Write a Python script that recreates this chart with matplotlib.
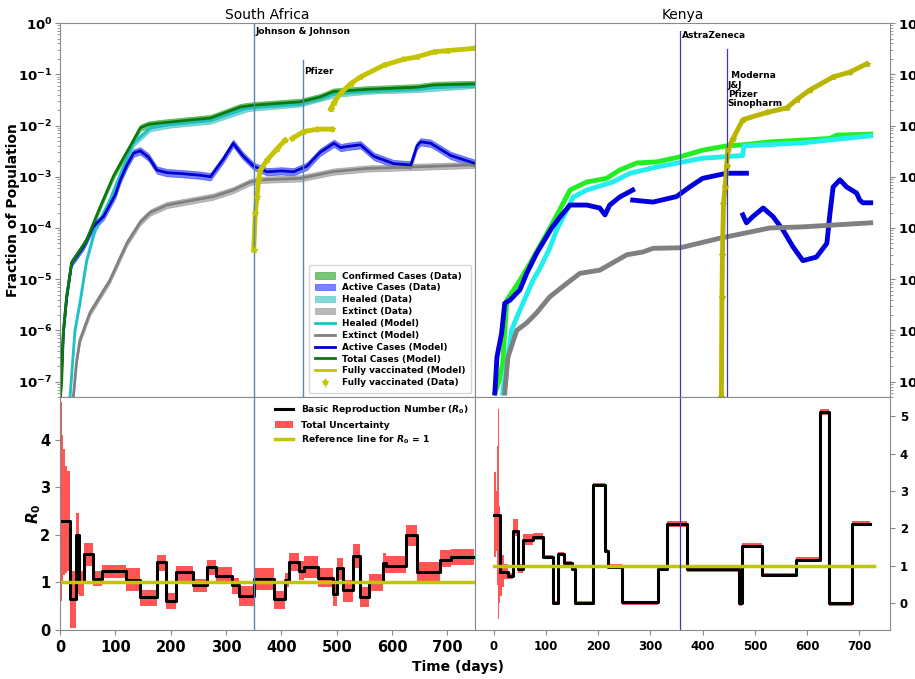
import numpy as np
import matplotlib.pyplot as plt

plt.rcParams['font.family'] = ['DejaVu Sans']
plt.rcParams['font.weight'] = 'bold'
plt.rcParams['axes.labelweight'] = 'bold'
plt.rcParams['axes.edgecolor'] = '#8a8a8a'
plt.rcParams['xtick.color'] = '#8a8a8a'
plt.rcParams['ytick.color'] = '#8a8a8a'
plt.rcParams['xtick.labelcolor'] = 'black'
plt.rcParams['ytick.labelcolor'] = 'black'

nan = np.nan

# ---------------- South Africa: fraction of population ----------------
sa_total_days = [0, 3, 6, 12, 21, 48, 72, 97, 109, 133, 145, 160, 181, 272, 326, 350, 434, 470, 494, 555, 646, 676, 748]
sa_total = [4e-8, 1e-7, 9e-7, 4.5e-6, 2.1e-5, 5.8e-5, 2.5e-4, 1.05e-3, 1.8e-3, 5.2e-3, 9.0e-3, 1.05e-2, 1.12e-2,
            1.4e-2, 2.3e-2, 2.5e-2, 2.9e-2, 3.6e-2, 4.6e-2, 5.1e-2, 5.6e-2, 6.2e-2, 6.5e-2]

sa_healed_days = [18, 27, 36, 48, 63, 90, 110, 133, 163, 200, 272, 340, 434, 500, 560, 650, 748]
sa_healed = [5e-8, 1e-6, 3.5e-6, 2.3e-5, 9e-5, 3.5e-4, 1.2e-3, 4.5e-3, 8.9e-3, 1.05e-2, 1.25e-2, 2.2e-2,
             2.7e-2, 4.2e-2, 4.8e-2, 5.2e-2, 6.2e-2]

sa_active_days = [0, 6, 12, 21, 42, 60, 79, 100, 109, 121, 133, 145, 160, 175, 193, 220, 253, 272, 295, 313,
                  330, 350, 374, 400, 422, 446, 470, 495, 507, 519, 543, 567, 603, 634, 645, 652, 670, 706, 748]
sa_active = [4e-8, 9e-7, 4.5e-6, 2.1e-5, 4.3e-5, 1.05e-4, 1.7e-4, 4.5e-4, 8.7e-4, 1.7e-3, 2.9e-3, 3.2e-3,
             2.4e-3, 1.35e-3, 1.2e-3, 1.15e-3, 1.07e-3, 1.0e-3, 2.2e-3, 4.5e-3, 2.6e-3, 1.6e-3, 1.25e-3,
             1.3e-3, 1.25e-3, 1.6e-3, 3.0e-3, 4.5e-3, 3.7e-3, 3.9e-3, 4.2e-3, 2.5e-3, 1.8e-3, 1.7e-3,
             4.0e-3, 4.8e-3, 4.5e-3, 2.6e-3, 1.85e-3]

sa_extinct_days = [24, 30, 36, 54, 90, 121, 145, 163, 193, 277, 313, 344, 362, 434, 494, 555, 748]
sa_extinct = [5e-8, 2.5e-7, 6.5e-7, 2.2e-6, 9.5e-6, 5.1e-5, 1.3e-4, 2.0e-4, 2.8e-4, 4.1e-4, 5.5e-4, 7.9e-4,
              8.7e-4, 9.3e-4, 1.26e-3, 1.45e-3, 1.7e-3]

sa_vacc_days = [350, 353, 356, 359, 362, 374, 392, 407, 413, 420, 440, 465, 492]
sa_vacc = [3.7e-5, 2e-4, 4e-4, 9e-4, 1.35e-3, 2.1e-3, 3.5e-3, 5.2e-3, nan, 5.6e-3, 7.6e-3, 8.5e-3, 8.5e-3]
sa_vacc2_days = [489, 495, 507, 525, 543, 585, 620, 646, 676, 700, 748]
sa_vacc2 = [2.1e-2, 2.8e-2, 4.3e-2, 6.5e-2, 8.9e-2, 0.15, 0.195, 0.22, 0.275, 0.29, 0.32]

# ---------------- Kenya: fraction of population ----------------
ke_total_days = [2, 10, 17, 25, 50, 69, 113, 146, 178, 216, 241, 274, 312, 357, 400, 446, 477, 529, 593, 644, 657, 722]
ke_total = [6e-8, 1e-7, 2.3e-7, 3.9e-6, 9.5e-6, 2.0e-5, 1.26e-4, 5.5e-4, 7.9e-4, 9.3e-4, 1.35e-3, 1.86e-3,
            1.95e-3, 2.45e-3, 3.3e-3, 4.0e-3, 4.2e-3, 4.8e-3, 5.2e-3, 5.6e-3, 6.5e-3, 6.8e-3]

ke_healed_days = [17, 27, 34, 44, 75, 88, 107, 120, 152, 178, 228, 261, 312, 400, 477, 479, 593, 657, 722]
ke_healed = [6e-8, 3e-7, 1e-6, 1.8e-6, 9.5e-6, 1.6e-5, 4.0e-5, 8.9e-5, 4.0e-4, 5.5e-4, 7.9e-4, 1.17e-3,
             1.55e-3, 2.3e-3, 2.6e-3, 4.0e-3, 4.6e-3, 5.4e-3, 6.3e-3]

ke_active_days = [2, 6, 15, 21, 31, 50, 63, 82, 111, 126, 146, 178, 203, 213, 222, 241, 266,
                  266, 266, 305, 350, 375, 400, 446, 484, 484,
                  477, 484, 496, 516, 535, 554, 573, 592, 618, 638, 644, 650, 663, 676, 695, 701, 707, 722]
ke_active = [6e-8, 3e-7, 8.9e-7, 3.4e-6, 3.9e-6, 6.2e-6, 1.3e-5, 3.2e-5, 1.0e-4, 1.6e-4, 2.8e-4, 2.8e-4,
             2.45e-4, 1.8e-4, 2.8e-4, 4.0e-4, 5.5e-4,
             nan, 3.5e-4, 3.2e-4, 4.1e-4, 6.3e-4, 9.3e-4, 1.17e-3, 1.17e-3, nan,
             1.8e-4, 1.26e-4, 1.66e-4, 2.45e-4, 1.66e-4, 9.1e-5, 4.3e-5, 2.3e-5, 2.7e-5, 5.0e-5, 1.95e-4,
             6.3e-4, 8.7e-4, 6.3e-4, 4.8e-4, 3.5e-4, 3.1e-4, 3.1e-4]

ke_extinct_days = [21, 27, 44, 63, 82, 107, 140, 165, 203, 255, 286, 305, 357, 433, 529, 592, 657, 722]
ke_extinct = [6e-8, 3e-7, 1e-6, 1.4e-6, 2.2e-6, 4.5e-6, 8.3e-6, 1.3e-5, 1.5e-5, 3.0e-5, 3.4e-5, 4.0e-5,
              4.1e-5, 6.3e-5, 1.0e-4, 1.05e-4, 1.15e-4, 1.26e-4]

ke_vacc_days = [436, 437, 438, 440, 443, 446, 448, 458, 477, 523, 561, 580, 605, 650, 682, 714]
ke_vacc = [5e-8, 4.5e-6, 3.0e-5, 3.0e-4, 6.3e-4, 1.6e-3, 3.3e-3, 5.5e-3, 1.3e-2, 1.8e-2, 2.2e-2, 3.2e-2,
           4.9e-2, 8.9e-2, 0.11, 0.16]

frac_ticks = [1e-7, 1e-6, 1e-5, 1e-4, 1e-3, 1e-2, 1e-1, 1e0]

# ---------------- R0 (step functions) ----------------
sa_r0_days = [0, 18, 29, 35, 44, 59, 76, 120, 145, 176, 191, 210, 241, 265, 282, 311, 323, 350, 386, 407, 413,
              431, 441, 467, 494, 500, 511, 530, 542, 558, 584, 590, 625, 646, 687, 706, 748]
sa_r0 = [2.29, 0.65, 2.0, 1.0, 1.6, 1.08, 1.23, 1.05, 0.69, 1.44, 0.6, 1.21, 0.94, 1.32, 1.14, 0.94, 0.72, 1.07,
         0.65, 1.05, 1.43, 1.25, 1.32, 1.09, 0.75, 1.3, 0.84, 1.56, 0.7, 1.0, 1.4, 1.35, 1.99, 1.21, 1.48, 1.53, 1.53]
sa_band_days = [0, 2, 4, 6, 9, 13] + sa_r0_days[1:]
sa_band_lo = [0.0, 0.6, 1.0, 1.15, 1.2, 1.25, 0.05, 0.75, 0.72, 1.35, 0.92, 1.1, 0.82, 0.5, 1.25, 0.45, 1.03,
              0.8, 1.16, 0.98, 0.75, 0.5, 0.85, 0.45, 0.9, 1.25, 1.05, 1.1, 0.9, 0.5, 1.05, 0.58, 1.3, 0.48,
              0.82, 1.2, 1.2, 1.77, 1.0, 1.32, 1.37, 1.37]
sa_band_hi = [4.8, 4.8, 4.1, 3.8, 3.45, 3.35, 1.25, 2.45, 1.25, 1.82, 1.25, 1.36, 1.3, 0.85, 1.57, 0.78, 1.35,
              1.08, 1.48, 1.33, 1.1, 0.92, 1.3, 0.82, 1.2, 1.62, 1.45, 1.55, 1.3, 1.05, 1.52, 1.05, 1.8, 0.9,
              1.18, 1.62, 1.55, 2.2, 1.42, 1.68, 1.7, 1.7]
sa_ref_days = [0, 750]
sa_ref = [1, 1]

ke_r0_days = [0, 11, 27, 37, 47, 55, 75, 94, 114, 123, 134, 149, 155, 190, 213, 219, 246, 315, 331, 370, 470,
              476, 514, 579, 625, 643, 686, 720]
ke_r0 = [2.37, 0.84, 0.73, 1.94, 0.93, 1.69, 1.78, 1.24, 0.02, 1.33, 1.07, 0.93, 0.02, 3.16, 1.4, 0.98, 0.03,
         0.93, 2.12, 0.91, 0.0, 1.54, 0.76, 1.17, 5.1, 0.0, 2.12, 2.12]
ke_band_days = [0, 4, 7, 8, 10, 11, 15, 20, 27, 37, 47, 55, 75, 94, 114, 123, 134, 149, 155, 190, 213, 219,
                246, 315, 331, 370, 470, 476, 514, 579, 625, 643, 686, 720]
ke_band_lo = [1.25, 1.4, 0.5, -0.42, 0.0, 0.2, 0.45, 0.65, 0.65, 1.8, 0.8, 1.55, 1.7, 1.2, -0.04, 1.28, 1.02,
              0.88, -0.03, 3.1, 1.35, 0.92, -0.04, 0.88, 2.05, 0.85, -0.06, 1.48, 0.7, 1.12, 5.03, -0.06, 2.06, 2.06]
ke_band_hi = [3.5, 3.0, 4.2, 5.2, 2.6, 1.6, 1.3, 1.05, 0.82, 2.25, 1.05, 1.85, 1.87, 1.29, 0.06, 1.38, 1.12,
              0.98, 0.06, 3.22, 1.45, 1.05, 0.07, 0.98, 2.2, 0.99, 0.05, 1.6, 0.82, 1.25, 5.2, 0.05, 2.2, 2.2]
ke_ref_days = [0, 728]
ke_ref = [1, 1]

# ---------------- figure ----------------
fig = plt.figure(figsize=(9.15, 6.79), dpi=100)
gs = fig.add_gridspec(2, 2, left=0.0656, right=0.9727, top=0.966, bottom=0.0722,
                      hspace=0, wspace=0, height_ratios=[374, 233])
ax_sa = fig.add_subplot(gs[0, 0])
ax_sa_r0 = fig.add_subplot(gs[1, 0], sharex=ax_sa)
ax_ke = fig.add_subplot(gs[0, 1])
ax_ke_r0 = fig.add_subplot(gs[1, 1], sharex=ax_ke)


def arr(v):
    return np.array(v, dtype=float)


# South Africa top
band = dict(alpha=0.6, lw=0.6)
h_conf = ax_sa.fill_between(sa_total_days, arr(sa_total) * 0.87, arr(sa_total) * 1.15, color='#1f9f1f', **band)
h_act = ax_sa.fill_between(sa_active_days, arr(sa_active) * 0.85, arr(sa_active) * 1.18, color='#2030ff', **band)
h_heal = ax_sa.fill_between(sa_healed_days, arr(sa_healed) * 0.87, arr(sa_healed) * 1.15, color='#30c0c0', **band)
h_ext = ax_sa.fill_between(sa_extinct_days, arr(sa_extinct) * 0.87, arr(sa_extinct) * 1.15, color='#8c8c8c', **band)
l_heal, = ax_sa.plot(sa_healed_days, sa_healed, color='#20c0c8', lw=2)
l_ext, = ax_sa.plot(sa_extinct_days, sa_extinct, color='#808080', lw=2)
l_act, = ax_sa.plot(sa_active_days, sa_active, color='#0000d0', lw=2)
l_tot, = ax_sa.plot(sa_total_days, sa_total, color='#0a7a0a', lw=2)
ax_sa.plot(sa_vacc_days, sa_vacc, color='#c4c400', lw=3.5)
ax_sa.plot(sa_vacc2_days, sa_vacc2, color='#c4c400', lw=3.5)
e_vac = ax_sa.errorbar(sa_vacc_days, sa_vacc, yerr=arr(sa_vacc) * 0.12, fmt='*', ms=4,
                       color='#c4c400', ecolor='#c4c400', lw=1)
ax_sa.errorbar(sa_vacc2_days, sa_vacc2, yerr=arr(sa_vacc2) * 0.05, fmt='*', ms=4,
               color='#c4c400', ecolor='#c4c400', lw=1)

ax_sa.set_yscale('log')
ax_sa.set_yticks(frac_ticks)
ax_sa.set_ylim(5e-8, 1)
ax_sa.set_xlim(0, 750)
ax_sa.set_title('South Africa', fontsize=10, fontweight='normal', pad=3)
ax_sa.set_ylabel('Fraction of Population', fontsize=10)
ax_sa.yaxis.set_label_coords(-0.096, 0.5)
ax_sa.tick_params(axis='y', labelsize=9.5, pad=2)
ax_sa.tick_params(axis='x', bottom=False, labelbottom=False)
ax_sa.axvline(351, color='#5b88b0', lw=1)
ax_sa.axvline(439, ymax=0.9, color='#5b88b0', lw=1)
ax_sa.text(353, 0.68, 'Johnson & Johnson', fontsize=6.5, va='center')
ax_sa.text(442, 0.115, 'Pfizer', fontsize=6.5, va='center')
vac_line = plt.Line2D([], [], color='#c4c400', lw=2)
ax_sa.legend([h_conf, h_act, h_heal, h_ext, l_heal, l_ext, l_act, l_tot, vac_line, e_vac],
             ['Confirmed Cases (Data)', 'Active Cases (Data)', 'Healed (Data)', 'Extinct (Data)',
              'Healed (Model)', 'Extinct (Model)', 'Active Cases (Model)', 'Total Cases (Model)',
              'Fully vaccinated (Model)', 'Fully vaccinated (Data)'],
             loc='lower right', fontsize=6.4, handlelength=2.2, labelspacing=0.32, borderpad=0.7,
             borderaxespad=0.4)

# Kenya top
ax_ke.plot(ke_total_days, ke_total, color='#22ee22', lw=3.5)
ax_ke.plot(ke_healed_days, ke_healed, color='#22eeee', lw=3.5)
ax_ke.plot(ke_active_days, ke_active, color='#0000dd', lw=3.5)
ax_ke.plot(ke_extinct_days, ke_extinct, color='#808080', lw=3.5)
ax_ke.plot(ke_vacc_days, ke_vacc, color='#b8b400', lw=3.5)
ax_ke.errorbar(ke_vacc_days, ke_vacc, yerr=arr(ke_vacc) * 0.1, fmt='*', ms=4,
               color='#b8b400', ecolor='#b8b400', lw=1)
ax_ke.set_yscale('log')
ax_ke.set_yticks(frac_ticks)
ax_ke.set_ylim(5e-8, 1)
ax_ke.set_xlim(-36, 759)
ax_ke.set_title('Kenya', fontsize=10, fontweight='normal', pad=3)
ax_ke.yaxis.tick_right()
ax_ke.tick_params(axis='y', labelsize=9.5, pad=2)
ax_ke.tick_params(axis='x', bottom=False, labelbottom=False)
ax_ke.axvline(357, ymax=0.98, color='#3a3ab8', lw=0.9)
ax_ke.axvline(446, ymax=0.93, color='#3a3ab8', lw=0.9)
ax_ke.text(360, 0.56, 'AstraZeneca', fontsize=6.5, va='center')
ax_ke.text(448, 0.05, ' Moderna\nJ&J\nPfizer\nSinopharm', fontsize=6.5, va='center', linespacing=1.05)

# South Africa R0
ax_sa_r0.fill_between(sa_band_days, sa_band_lo, sa_band_hi, step='post', color='#ff2a2a', alpha=0.8, lw=0,
                      label='Total Uncertainty')
ax_sa_r0.plot(sa_r0_days, sa_r0, drawstyle='steps-post', color='black', lw=2.2,
              label='Basic Reproduction Number ($R_0$)')
ax_sa_r0.plot(sa_ref_days, sa_ref, color='#c4c400', lw=2.5, label='Reference line for $R_0$ = 1')
ax_sa_r0.axvline(351, color='#5b88b0', lw=1)
ax_sa_r0.set_ylim(0, 4.9)
ax_sa_r0.set_yticks([0, 1, 2, 3, 4])
ax_sa_r0.set_ylabel('$R_0$', fontsize=11)
ax_sa_r0.yaxis.set_label_coords(-0.04, 0.5)
ax_sa_r0.tick_params(labelsize=10.5)
hs, ls = ax_sa_r0.get_legend_handles_labels()
ax_sa_r0.legend([hs[1], hs[0], hs[2]], [ls[1], ls[0], ls[2]], loc='upper right', fontsize=6.6,
                frameon=False, labelspacing=0.45, borderaxespad=0.3)

# Kenya R0
ax_ke_r0.fill_between(ke_band_days, ke_band_lo, ke_band_hi, step='post', color='#ff2a2a', alpha=0.8, lw=0)
ax_ke_r0.plot(ke_r0_days, ke_r0, drawstyle='steps-post', color='black', lw=2.2)
ax_ke_r0.plot(ke_ref_days, ke_ref, color='#c4c400', lw=2.5)
ax_ke_r0.axvline(357, color='#3a3ab8', lw=0.9)
ax_ke_r0.set_ylim(-0.71, 5.51)
ax_ke_r0.yaxis.tick_right()
ax_ke_r0.tick_params(labelsize=8.5)

fig.text(0.5, 0.012, 'Time (days)', ha='center', fontsize=10, fontweight='bold')

fig.savefig('out.png', dpi=100)
